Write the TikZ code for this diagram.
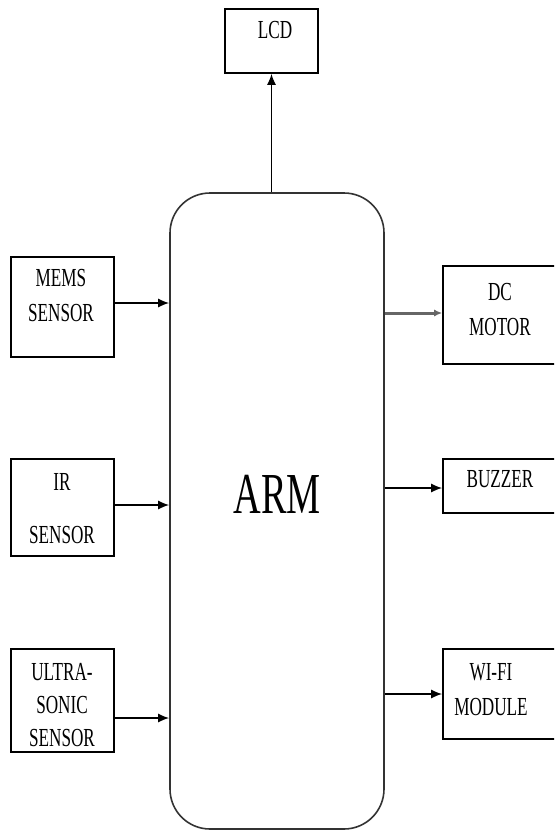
\documentclass[tikz,border=0pt]{standalone}
\usepackage{fontspec}
\newfontfamily\narrowserif[FakeStretch=0.66]{Liberation Serif}
\usetikzlibrary{arrows.meta}

\begin{document}
\begin{tikzpicture}[x=0.5pt,y=-0.5pt,line width=0.8pt,
  blk/.style={draw,rectangle,inner sep=0pt},
  lbl/.style={inner sep=0pt,align=center,font=\narrowserif\fontsize{13}{17.5}\selectfont},
  arr/.style={-{Latex[length=5.5pt,width=4.5pt]}}]
  \useasboundingbox (0,0) rectangle (554,830);
  \clip (0,0) rectangle (554,830);
  % blocks
  \node[blk,minimum width=107pt,minimum height=318pt,rounded corners=20pt,draw=black!80] (arm) at (277,511) {};
  \node[blk,minimum width=46.5pt,minimum height=32pt] (lcd) at (271.5,41) {};
  \node[blk,minimum width=51.5pt,minimum height=50pt] (mems) at (62.5,307) {};
  \node[blk,minimum width=51.5pt,minimum height=48.5pt] (ir) at (62.5,507.5) {};
  \node[blk,minimum width=51.5pt,minimum height=51.5pt] (ultra) at (62.5,700.5) {};
  \node[blk,minimum width=58.5pt,minimum height=49pt] (motor) at (501.5,315) {};
  \node[blk,minimum width=58.5pt,minimum height=27pt] (buzzer) at (501.5,486) {};
  \node[blk,minimum width=58.5pt,minimum height=45pt] (wifi) at (501.5,694) {};
  % texts
  \node[lbl,font=\narrowserif\fontsize{29}{30}\selectfont] (armname) at (277,494) {ARM};
  \node[lbl] (lcdname) at (275,30) {LCD};
  \node[lbl] (memsname) at (61,296) {MEMS\\SENSOR};
  \node[lbl] (irname) at (62,508.5) {IR\\[9pt]SENSOR};
  \node[lbl] (ultraname) at (62,705) {ULTRA-\\[-1pt]SONIC\\[-1pt]SENSOR};
  \node[lbl] (motorname) at (500,310) {DC\\MOTOR};
  \node[lbl] (buzzername) at (500,479) {BUZZER};
  \node[lbl] (wifiname) at (491,690) {WI-FI\\MODULE};
  % connections
  \draw[arr] (lcd.south |- arm.north) -- (lcd.south);
  \draw[arr] ([yshift=2pt]mems.east) -- ([yshift=2pt]mems.east -| arm.west);
  \draw[arr] ([yshift=1.25pt]ir.east) -- ([yshift=1.25pt]ir.east -| arm.west);
  \draw[arr] ([yshift=-8.75pt]ultra.east) -- ([yshift=-8.75pt]ultra.east -| arm.west);
  \draw[arr,draw=black!60,fill=black,line width=1.5pt,-{Latex[length=4pt,width=3.5pt]}] ([yshift=1pt]motor.west -| arm.east) -- ([yshift=1pt]motor.west);
  \draw[arr] ([yshift=-1pt]buzzer.west -| arm.east) -- ([yshift=-1pt]buzzer.west);
  \draw[arr] (wifi.west -| arm.east) -- (wifi.west);
\end{tikzpicture}
\end{document}
